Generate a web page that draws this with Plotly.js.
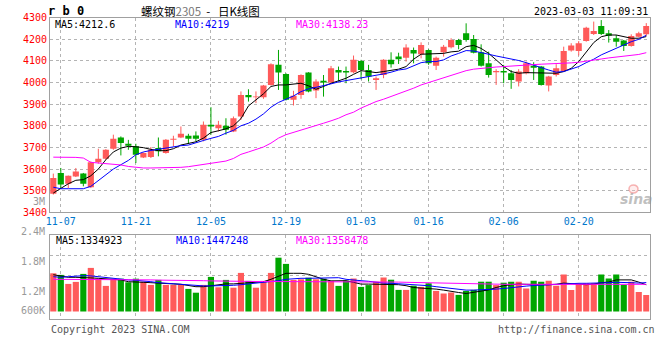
<!DOCTYPE html>
<html><head><meta charset="utf-8">
<script src="https://cdn.plot.ly/plotly-3.0.1.min.js"></script>
<style>html,body{margin:0;padding:0;background:#fff}#chart{width:660px;height:360px}</style>
</head><body><div id="chart"></div>
<script>
const dates = ['11-04','11-07','11-08','11-09','11-10','11-11','11-14','11-15','11-16','11-17',
 '11-18','11-21','11-22','11-23','11-24','11-25','11-28','11-29','11-30','12-01',
 '12-02','12-05','12-06','12-07','12-08','12-09','12-12','12-13','12-14','12-15',
 '12-16','12-19','12-20','12-21','12-22','12-23','12-26','12-27','12-28','12-29',
 '12-30','01-03','01-04','01-05','01-06','01-09','01-10','01-11','01-12','01-13',
 '01-16','01-17','01-18','01-19','01-20','01-30','01-31','02-01','02-02','02-03',
 '02-06','02-07','02-08','02-09','02-10','02-13','02-14','02-15','02-16','02-17',
 '02-20','02-21','02-22','02-23','02-24','02-27','02-28','03-01','03-02','03-03'];
const tickLabels = ['11-07','11-21','12-05','12-19','01-03','01-16','02-06','02-20'];
const open = [3486,3582,3532,3566,3579,3516,3632,3648,3694,3746,
 3717,3705,3654,3656,3697,3674,3736,3746,3754,3755,
 3735,3805,3789,3800,3774,3843,3943,3932,3932,3989,
 4082,4040,3920,3943,4046,3963,4008,4000,4058,4054,
 4048,4100,4058,4012,4035,4105,4120,4115,4151,4131,
 4151,4078,4140,4163,4197,4228,4202,4140,4089,4048,
 4054,4043,4005,4043,4078,4074,3986,4035,4054,4148,
 4146,4192,4225,4262,4228,4205,4194,4169,4212,4223];
const high = [3579,3605,3570,3605,3582,3635,3694,3692,3759,3751,
 3735,3717,3677,3702,3746,3739,3754,3797,3763,3774,
 3820,3886,3823,3835,3843,3959,3969,3959,3989,4089,
 4151,4043,3962,4038,4048,4015,4035,4077,4074,4074,
 4125,4105,4082,4028,4108,4140,4138,4177,4162,4186,
 4154,4120,4174,4205,4202,4274,4220,4177,4143,4062,
 4082,4058,4062,4097,4094,4077,4031,4085,4166,4182,
 4192,4258,4282,4289,4243,4220,4197,4223,4235,4275];
const low = [3482,3508,3512,3563,3520,3512,3625,3643,3689,3663,
 3689,3628,3651,3651,3659,3671,3705,3743,3716,3728,
 3728,3759,3774,3759,3771,3828,3912,3905,3925,3986,
 3966,3917,3894,3925,3955,3928,3935,3997,4005,3997,
 4043,4015,4005,3966,4020,4069,4086,4097,4089,4112,
 4082,4058,4120,4158,4154,4189,4135,4074,4023,3989,
 3997,3971,3982,4038,4012,3986,3959,4028,4051,4143,
 4125,4189,4220,4220,4185,4166,4146,4166,4209,4215];
const close = [3559,3528,3569,3589,3532,3632,3648,3689,3740,3720,
 3708,3666,3674,3689,3682,3736,3740,3763,3740,3740,
 3805,3797,3805,3782,3835,3943,3932,3935,3986,4085,
 4046,3920,3939,4035,3959,4005,4000,4066,4046,4046,
 4105,4058,4028,4020,4105,4085,4108,4162,4135,4174,
 4089,4115,4166,4197,4174,4197,4138,4078,4035,4054,
 4046,4012,4051,4089,4069,3989,4028,4066,4146,4171,
 4182,4254,4238,4225,4217,4189,4169,4215,4228,4262];
const ma5 = [3489,3512,3532,3548,3551,3569,3600,3643,3679,3697,
 3705,3703,3699,3691,3685,3685,3694,3711,3717,3726,
 3743,3769,3777,3786,3800,3833,3892,3920,3948,3982,
 3989,3989,3992,3997,3985,3969,3982,3997,4008,4020,
 4038,4055,4051,4046,4051,4058,4062,4074,4108,4131,
 4132,4132,4135,4142,4145,4166,4172,4158,4135,4105,
 4074,4051,4043,4046,4046,4043,4043,4043,4051,4066,
 4097,4143,4185,4212,4220,4220,4212,4205,4205,4212.6];
const ma10 = [3516,3509,3509,3509,3509,3520,3548,3574,3600,3620,
 3640,3666,3679,3686,3692,3697,3705,3708,3711,3723,
 3732,3742,3751,3766,3779,3800,3812,3831,3855,3886,
 3908,3923,3938,3958,3971,3978,3985,3994,4003,4009,
 4015,4020,4028,4032,4040,4048,4058,4063,4077,4092,
 4097,4097,4105,4123,4135,4148,4146,4140,4131,4123,
 4117,4109,4102,4092,4082,4069,4058,4048,4051,4062,
 4074,4092,4108,4128,4143,4158,4174,4189,4200,4219];
const ma30 = [3655,3655,3654,3654,3651,3631,3628,3625,3623,3619,
 3612,3608,3605,3605,3605,3605,3606,3608,3611,3616,
 3620,3626,3631,3637,3649,3668,3679,3689,3702,3720,
 3743,3759,3769,3782,3792,3802,3812,3823,3835,3851,
 3863,3882,3897,3912,3923,3935,3948,3962,3974,3989,
 4000,4012,4023,4035,4046,4055,4062,4066,4071,4072,
 4074,4077,4078,4082,4083,4085,4086,4086,4088,4091,
 4094,4100,4105,4109,4114,4118,4123,4128,4130,4138.23];
const volume = [1910000,1830000,1380000,1480000,1880000,2180000,1640000,1280000,1640000,1640000,
 1460000,1640000,1490000,1330000,1580000,1330000,1330000,1330000,1130000,940000,
 1330000,1730000,1210000,1580000,1190000,1930000,1530000,1190000,1530000,1930000,
 2690000,2380000,1580000,1610000,1690000,1610000,1640000,1530000,1280000,1540000,
 1650000,1230000,1320000,1490000,1700000,1590000,1080000,1080000,1290000,1230000,
 1410000,1030000,900000,950000,830000,1030000,1080000,1490000,1490000,1320000,
 1440000,1490000,1490000,1150000,1540000,1490000,1540000,1290000,1850000,1080000,
 1370000,1410000,1410000,1850000,1650000,1850000,1340000,1490000,980000,830000];
const volMa5 = [1840000,1780000,1710000,1710000,1710000,1680000,1660000,1640000,1630000,1580000,
 1490000,1460000,1460000,1440000,1410000,1410000,1380000,1360000,1310000,1240000,
 1240000,1280000,1330000,1380000,1380000,1410000,1410000,1440000,1490000,1610000,
 1780000,1910000,1910000,1910000,1860000,1740000,1610000,1530000,1520000,1540000,
 1460000,1370000,1370000,1370000,1370000,1360000,1340000,1290000,1200000,1170000,
 1150000,1120000,1070000,1000000,950000,900000,950000,1030000,1080000,1200000,
 1290000,1340000,1370000,1360000,1340000,1340000,1340000,1360000,1420000,1410000,
 1370000,1340000,1370000,1440000,1470000,1580000,1580000,1580000,1470000,1334923];
const volMa10 = [1740000,1710000,1740000,1780000,1790000,1780000,1740000,1690000,1630000,1610000,
 1580000,1560000,1540000,1490000,1440000,1410000,1380000,1340000,1330000,1290000,
 1280000,1280000,1280000,1290000,1310000,1340000,1380000,1410000,1440000,1480000,
 1540000,1610000,1640000,1660000,1660000,1660000,1680000,1690000,1690000,1610000,
 1560000,1540000,1510000,1460000,1420000,1410000,1390000,1370000,1340000,1320000,
 1290000,1240000,1190000,1150000,1120000,1070000,1070000,1080000,1100000,1120000,
 1150000,1200000,1240000,1270000,1300000,1320000,1350000,1370000,1390000,1390000,
 1410000,1410000,1410000,1420000,1440000,1460000,1460000,1440000,1420000,1447248];
const volMa30 = [1610000,1610000,1610000,1610000,1610000,1610000,1610000,1610000,1610000,1610000,
 1600000,1590000,1580000,1580000,1570000,1570000,1560000,1560000,1550000,1550000,
 1540000,1530000,1520000,1520000,1510000,1510000,1500000,1500000,1500000,1500000,
 1500000,1500000,1500000,1500000,1500000,1500000,1490000,1490000,1490000,1490000,
 1490000,1490000,1490000,1490000,1480000,1480000,1470000,1460000,1450000,1440000,
 1430000,1420000,1420000,1410000,1400000,1390000,1380000,1370000,1370000,1370000,
 1360000,1360000,1360000,1360000,1360000,1360000,1360000,1360000,1360000,1360000,
 1360000,1360000,1360000,1360000,1360000,1360000,1360000,1360000,1360000,1358478];
const volAxisLabels = ['2.4M','1.8M','1.2M','600K'];

const RED = '#ff5a5a', GREEN = '#00a600';
const MONO = 'DejaVu Sans Mono, monospace';
const idx = dates.map((d, i) => i);
const up = idx.map(i => close[i] >= open[i]);
const col = up.map(u => u ? RED : GREEN);
const tickIdx = tickLabels.map(t => dates.indexOf(t));

function wick(isUp) {
  const x = [], y = [];
  idx.forEach(i => { if (up[i] === isUp) { x.push(i, i, null); y.push(low[i], high[i], null); } });
  return {x, y, type: 'scatter', mode: 'lines', line: {color: isUp ? RED : GREEN, width: 1},
    hoverinfo: 'skip', xaxis: 'x', yaxis: 'y', showlegend: false};
}
const traces = [
  wick(true), wick(false),
  {type: 'bar', x: idx, base: idx.map(i => Math.min(open[i], close[i])),
   y: idx.map(i => Math.max(Math.abs(close[i] - open[i]), 4)), width: 0.82,
   marker: {color: col, line: {width: 0}}, xaxis: 'x', yaxis: 'y', showlegend: false},
  {type: 'scatter', mode: 'lines', x: idx, y: ma5, line: {color: '#000000', width: 1}, xaxis: 'x', yaxis: 'y', showlegend: false},
  {type: 'scatter', mode: 'lines', x: idx, y: ma10, line: {color: '#0000ff', width: 1}, xaxis: 'x', yaxis: 'y', showlegend: false},
  {type: 'scatter', mode: 'lines', x: idx, y: ma30, line: {color: '#ff00ff', width: 1}, xaxis: 'x', yaxis: 'y', showlegend: false},
  {type: 'bar', x: idx, y: volume, width: 0.82, marker: {color: col, line: {width: 0}}, xaxis: 'x2', yaxis: 'y2', showlegend: false},
  {type: 'scatter', mode: 'lines', x: idx, y: volMa5, line: {color: '#000000', width: 1}, xaxis: 'x2', yaxis: 'y2', showlegend: false},
  {type: 'scatter', mode: 'lines', x: idx, y: volMa10, line: {color: '#0000ff', width: 1}, xaxis: 'x2', yaxis: 'y2', showlegend: false},
  {type: 'scatter', mode: 'lines', x: idx, y: volMa30, line: {color: '#ff00ff', width: 1}, xaxis: 'x2', yaxis: 'y2', showlegend: false}
];

const W = 660, H = 360;
const px = x => x / W, py = y => 1 - y / H;
const xRange = [-0.44, 79.43];
const xDom = [px(50), px(649.5)];
const gridStyle = {showgrid: true, gridcolor: '#b4b4b4', griddash: 'dot', gridwidth: 1, zeroline: false,
  showline: true, mirror: true, linecolor: '#a0a0a0', linewidth: 1, ticks: ''};

const last = a => a[a.length - 1];
function ann(text, x, y, anchor, color, size, extra) {
  return Object.assign({text, x: px(x), y: py(y), xref: 'paper', yref: 'paper', showarrow: false,
    xanchor: anchor, yanchor: 'middle', font: {family: MONO, size: size || 10, color}, borderpad: 0}, extra || {});
}
const volLabelY = [231, 261, 291, 310];
const annotations = [
  ann('<b>r b 0</b>', 47, 11, 'left', '#000', 12),
  ann('螺纹钢<span style="color:#777">2305</span>  -   日K线图', 140, 10.5, 'left', '#000', 11,
      {font: {family: 'Noto Sans CJK SC, sans-serif', size: 11.5, color: '#000'}}),
  ann('2023-03-03 11:09:31', 649, 11, 'right', '#000', 10),
  ann('MA5:' + last(ma5), 54, 24.5, 'left', '#000', 10),
  ann('MA10:' + last(ma10), 174, 24.5, 'left', '#0000ff', 10),
  ann('MA30:' + last(ma30), 295, 24.5, 'left', '#ff00ff', 10),
  ann('MA5:' + last(volMa5), 55, 240, 'left', '#000', 10),
  ann('MA10:' + last(volMa10), 175, 240, 'left', '#0000ff', 10),
  ann('MA30:' + last(volMa30), 295, 240, 'left', '#ff00ff', 10),
  ann('3M', 46, 201, 'right', '#999', 10),
  ann('Copyright 2023 SINA.COM', 50, 329, 'left', '#555', 10),
  ann('http://finance.sina.com.cn', 656, 329, 'right', '#555', 10),
  ann('<i><b>sina</b></i>', 636, 199, 'center', 'rgba(150,150,150,0.6)', 14,
      {font: {family: 'DejaVu Sans, sans-serif', size: 14, color: 'rgba(150,150,150,0.6)'}})
].concat(volAxisLabels.map((t, i) => ann(t, 46, volLabelY[i], 'right', '#999', 10)));

const shapes = [
  {type: 'circle', xref: 'paper', yref: 'paper', x0: px(629), x1: px(638), y0: py(193), y1: py(185),
   line: {color: 'rgba(240,110,110,0.5)', width: 1.5}, fillcolor: 'rgba(255,200,200,0.3)'}
];

const layout = {
  width: W, height: H, margin: {l: 0, r: 0, t: 0, b: 0},
  paper_bgcolor: '#fff', plot_bgcolor: '#fff', barmode: 'overlay', showlegend: false,
  xaxis: Object.assign({}, gridStyle, {domain: xDom, range: xRange, anchor: 'y', tickvals: tickIdx, ticktext: tickLabels,
    tickfont: {family: MONO, size: 10, color: '#0077cc'}}),
  yaxis: Object.assign({}, gridStyle, {domain: [py(212.3), py(17.7)], range: [3400, 4300], anchor: 'x',
    tick0: 3400, dtick: 100, tickfont: {family: MONO, size: 10, color: '#ff0000'}}),
  xaxis2: Object.assign({}, gridStyle, {domain: xDom, range: xRange, anchor: 'y2', tickvals: tickIdx, showticklabels: false}),
  yaxis2: Object.assign({}, gridStyle, {domain: [py(319), py(235)], range: [-375000, 3825000], anchor: 'x2',
    tickvals: [1825000, 2790000], showticklabels: false}),
  annotations, shapes
};
Plotly.newPlot('chart', traces, layout, {staticPlot: true, displayModeBar: false});
</script></body></html>
